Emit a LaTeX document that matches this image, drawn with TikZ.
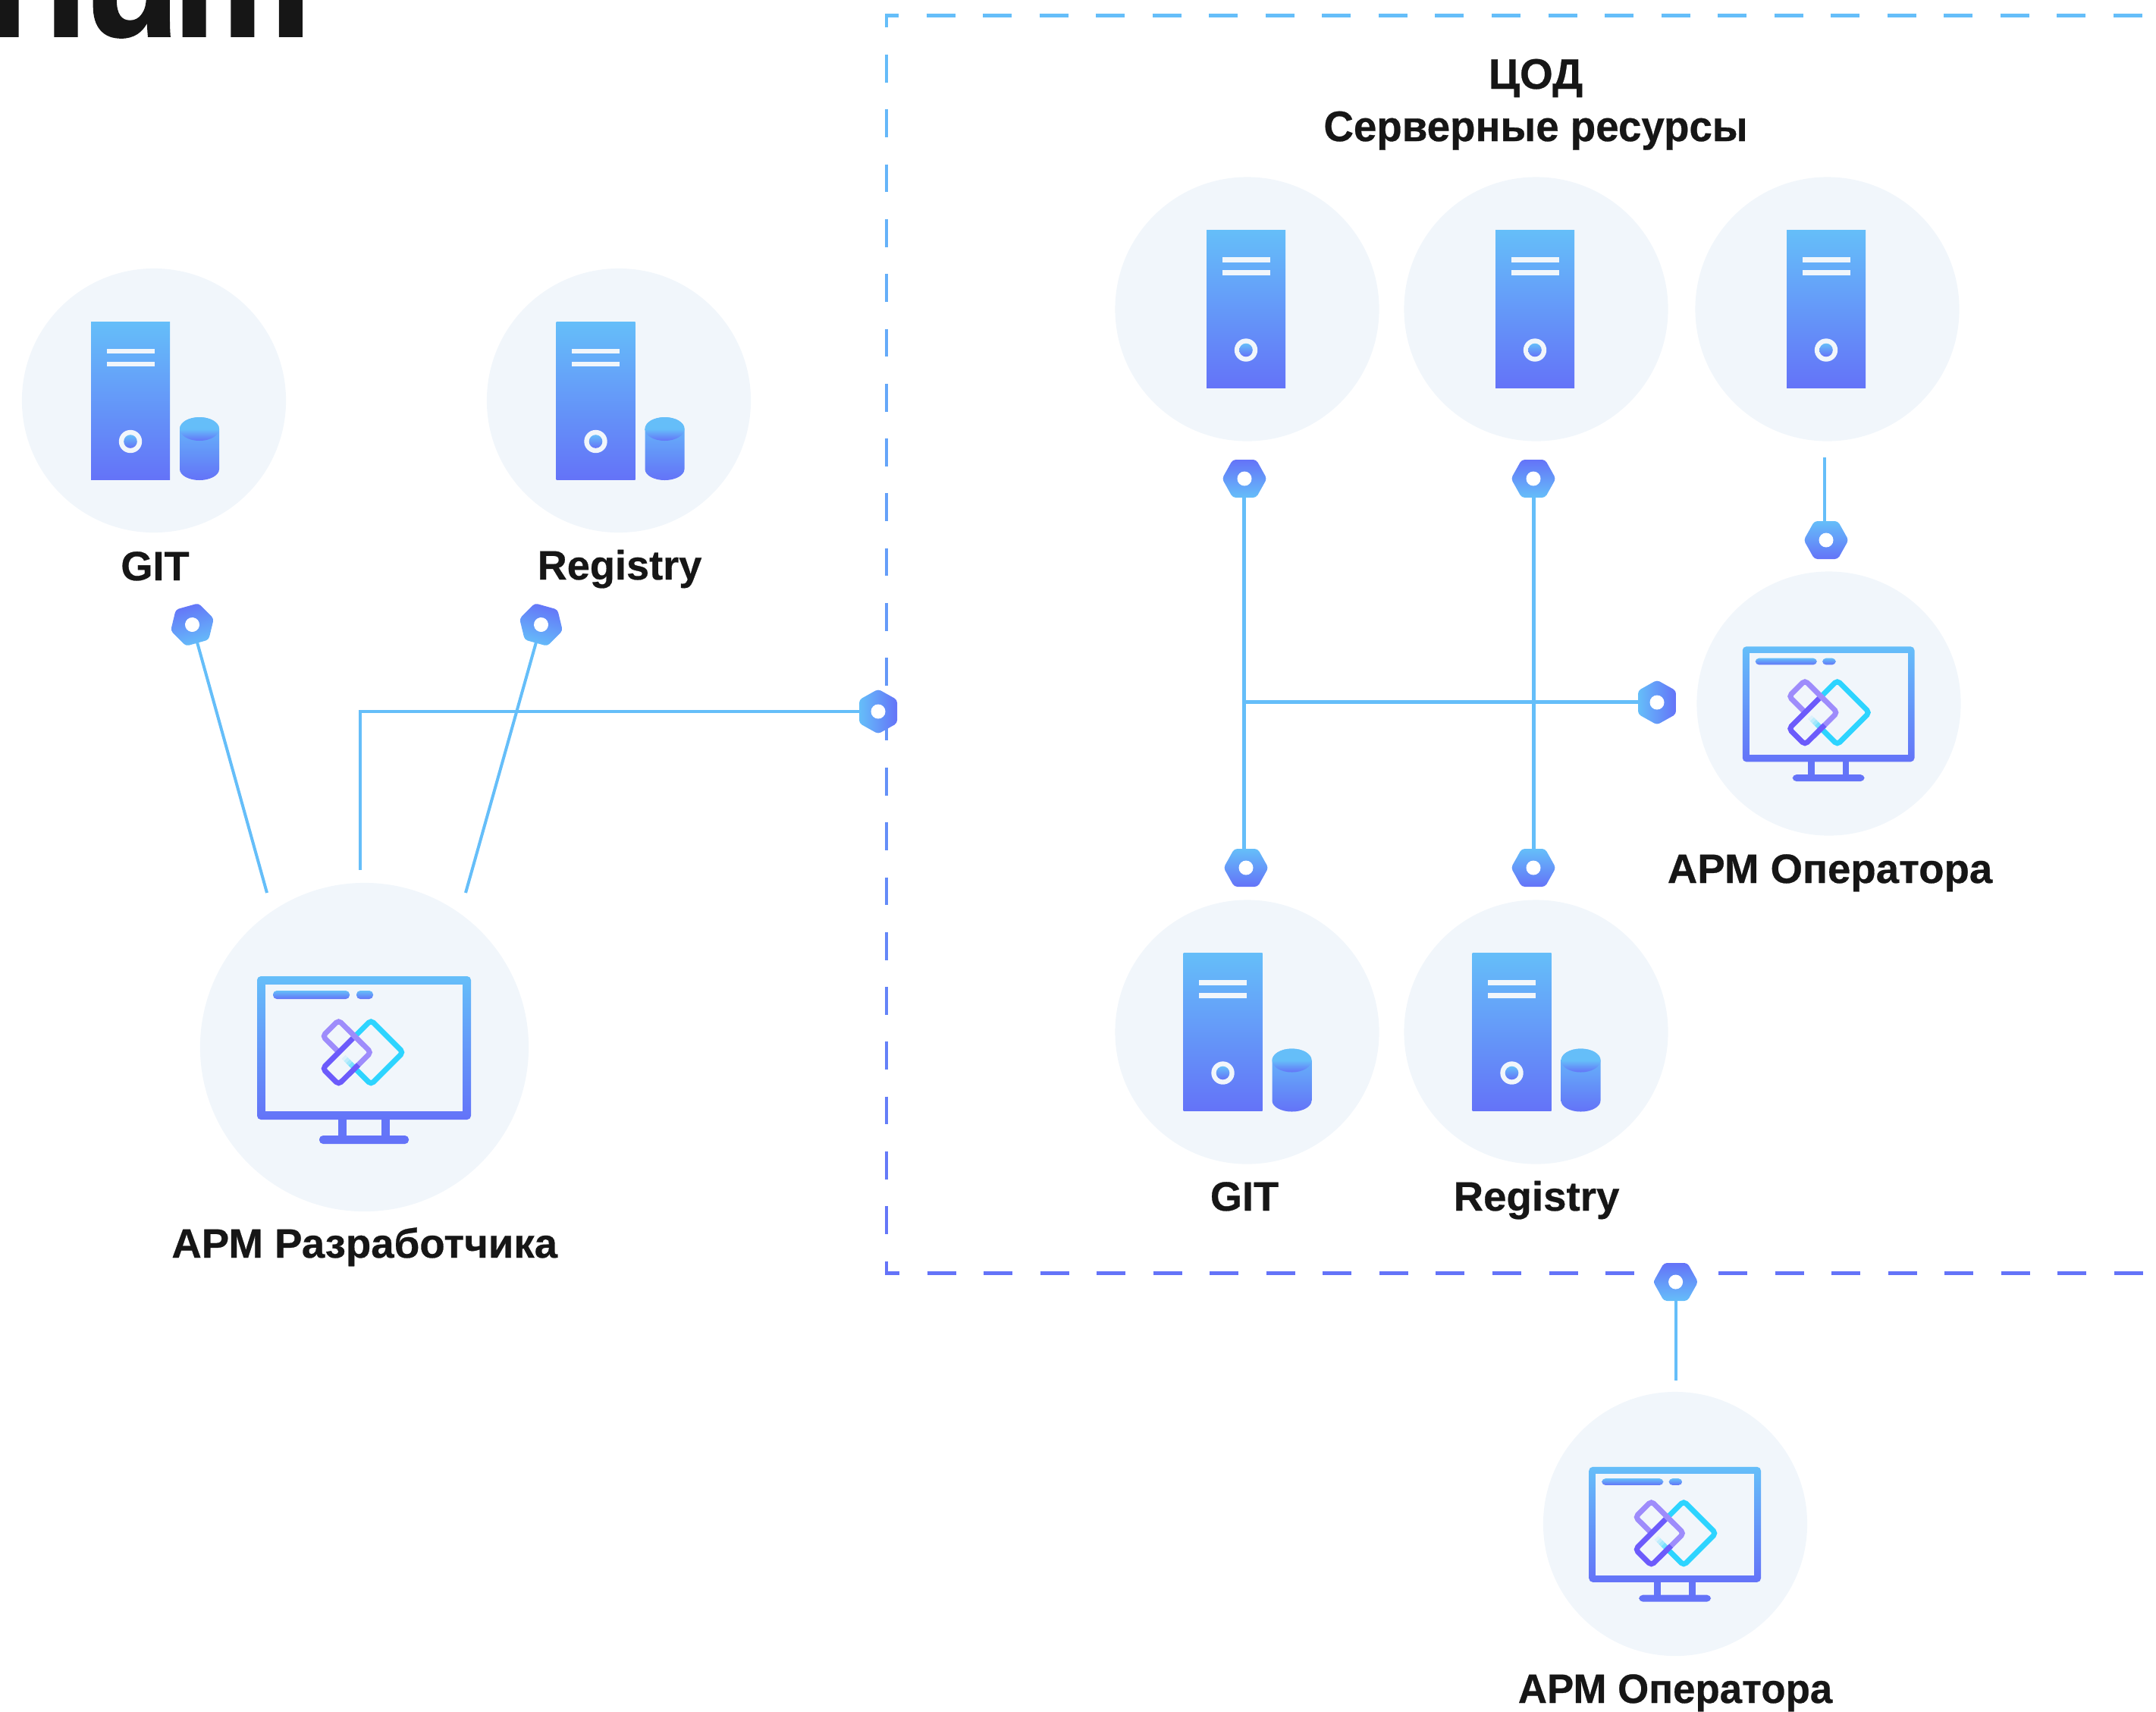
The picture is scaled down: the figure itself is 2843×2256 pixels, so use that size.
\documentclass[tikz,border=0pt]{standalone}
\usepackage{graphicx}
\usepackage{fontspec}
\setmainfont[BoldFeatures={FakeBold=0.5}]{Liberation Sans}
\newfontfamily\ttlfont[BoldFeatures={FakeBold=1.5}]{Liberation Sans}
\usetikzlibrary{calc}
\definecolor{cL}{HTML}{65BEF9}
\definecolor{cD}{HTML}{6473F8}
\definecolor{bgc}{HTML}{F1F6FB}
\definecolor{ink}{HTML}{161616}
\definecolor{pL}{HTML}{9E8CFB}
\definecolor{pD}{HTML}{6C5BFB}
\definecolor{cy}{HTML}{2DD4FF}
\tikzset{
  x=0.01cm,y=-0.01cm,
  bgcirc/.style={circle,fill=bgc,draw=none,inner sep=0pt,minimum size=3.48cm},
  bigcirc/.style={circle,fill=bgc,draw=none,inner sep=0pt,minimum size=4.33cm},
  conn/.style={draw=cL,line width=0.04cm},
  connw/.style={draw=cL,line width=0.05cm},
  grad/.style={top color=cL,bottom color=cD,draw=none},
  lbl/.style={anchor=base,inner sep=0pt,text=ink,font=\bfseries\fontsize{15.4}{18}\selectfont},
  lblb/.style={anchor=base,inner sep=0pt,text=ink,font=\bfseries\fontsize{16}{18}\selectfont},
}
\newcommand{\hexa}[3]{%
  \begin{scope}[shift={(#1,#2)},rotate=#3]
    \path[rounded corners=0.04cm,shading=axis,top color=cD,bottom color=cL,shading angle=#3]
      (-29.5,0)--(-15.5,-25)--(15.5,-25)--(29.5,0)--(15.5,25)--(-15.5,25)--cycle;
    \fill[white] (0,0) circle[radius=9.5];
  \end{scope}}
\newcommand{\srv}[3]{% x y dx
  \begin{scope}[shift={(#1,#2)}]
    \path[grad] (#3-52,-104) rectangle (#3+52,104);
    \fill[bgc] (#3-31.5,-68.5) rectangle (#3+31.5,-62);
    \fill[bgc] (#3-31.5,-51.5) rectangle (#3+31.5,-45);
    \fill[bgc] (#3,54) circle[radius=15.2];
    \path[grad] (#3,54) circle[radius=8.8];
  \end{scope}}
\newcommand{\srvdb}[2]{%
  \srv{#1}{#2}{-32.5}
  \begin{scope}[shift={(#1,#2)}]
    \path[grad] (32.5,37.5) .. controls (32.5,28.9) and (44.1,22) .. (58.5,22)
       .. controls (72.9,22) and (84.5,28.9) .. (84.5,37.5) -- (84.5,90.5)
       .. controls (84.5,98.5) and (72.9,105) .. (58.5,105)
       .. controls (44.1,105) and (32.5,98.5) .. (32.5,90.5) -- cycle;
    \fill[cL] (32.5,37.5) .. controls (32.5,28.9) and (44.1,22) .. (58.5,22)
       .. controls (72.9,22) and (84.5,28.9) .. (84.5,37.5) -- cycle;
    \path[grad] (32.5,37.5) .. controls (32.5,46.1) and (44.1,53) .. (58.5,53)
       .. controls (72.9,53) and (84.5,46.1) .. (84.5,37.5) -- cycle;
  \end{scope}}
\newcommand{\mon}[5]{% x y scale logo-dx logo-dy
  \begin{scope}[shift={(#1,#2)},scale=#3]
    \path[grad,rounded corners=0.05cm] (-141.5,-93.5) rectangle (140.5,95.5);
    \fill[bgc] (-130.5,-82.5) rectangle (129.5,84.5);
    \fill[cD!97!cL] (-34.5,95.5) rectangle (-23.5,117);
    \fill[cD!97!cL] (22.5,95.5) rectangle (33.5,117);
    \fill[cD,rounded corners=0.05cm] (-59.5,116.5) rectangle (58.5,127.5);
    \path[grad,rounded corners=0.05cm] (-120.5,-74.5) rectangle (-19.5,-63.5);
    \path[grad,rounded corners=0.05cm] (-10.5,-74.5) rectangle (11.5,-63.5);
  \end{scope}
  \begin{scope}[shift={(#1+#4,#2+#5)},line width=0.07cm,rounded corners=0.045cm,line cap=butt]
    \draw[cy] (-12.7,-14.1) -- (8.7,-35.5) -- (51,6.8) -- (8.7,49.1) -- (-12.5,27.9);
    \foreach \q/\o in {0/80,1/60,2/40,3/25,4/10}{
      \draw[cy,opacity=\o/100,rounded corners=0] ($(-12.5,27.9)+(-3*\q,-3*\q)$) -- ($(-12.5,27.9)+(-3*\q-3,-3*\q-3)$);}
    \draw[pL] (-33.8,6.5) -- (-55,-14.5) -- (-34,-35.5) -- (8.6,6.8) -- (-12.5,27.9);
    \draw[pD] (-15.2,-11.7) -- (-55,28.1) -- (-34,49.1) -- (-8,23.4);
  \end{scope}}
\begin{document}
\begin{tikzpicture}
\useasboundingbox (0,0) rectangle (2843,2256);
% title fragment
\node[anchor=base west,inner sep=0pt,text=ink] at (-20,47.3)
  {\ttlfont\bfseries\fontsize{58.3}{60}\selectfont i\kern.21cm r\kern-.27cm u\kern-.09cm m};
% dashed frame
\foreach \k in {0,...,22}{
  \pgfmathsetmacro\ya{72+72.3*\k}
  \pgfmathsetmacro\yb{min(\ya+36.7,1681)}
  \pgfmathsetmacro\p{100-(\ya-20)/16.58}
  \draw[color=cL!\p!cD,line width=0.04cm] (1169,\ya) -- (1169,\yb);
}
\draw[cL,line width=0.04cm] (1169,36) -- (1169,18);
\draw[cL,line width=0.05cm,dash pattern=on 0.38cm off 0.365cm,dash phase=0.2cm] (1167,20) -- (2843,20);
\draw[cD,line width=0.05cm,dash pattern=on 0.38cm off 0.365cm,dash phase=0.19cm] (1167,1678.5) -- (2843,1678.5);
% circles
\node[bgcirc] (cgit) at (203,528) {};
\node[bgcirc] (creg) at (816,528) {};
\node[bigcirc] (cdev) at (480.5,1380.5) {};
\node[bgcirc] (s1) at (1644.5,407.5) {};
\node[bgcirc] (s2) at (2025.5,407.5) {};
\node[bgcirc] (s3) at (2409.5,407.5) {};
\node[bgcirc] (cgit2) at (1644.5,1360.5) {};
\node[bgcirc] (creg2) at (2025.5,1360.5) {};
\node[bgcirc] (op1) at (2411.5,927.5) {};
\node[bgcirc] (op2) at (2209,2009) {};
% coordinates for ports
\coordinate (hgit) at (253.5,823.5);
\coordinate (hreg) at (713.5,823.5);
\coordinate (hdev) at (1158,938);
\coordinate (h1) at (1640.5,631);
\coordinate (h2) at (2022,631);
\coordinate (h3) at (2408,712);
\coordinate (h4) at (2185,925.5);
\coordinate (h5) at (1640.5,1144);
\coordinate (h6) at (2022,1144);
\coordinate (h7) at (2209.6,1690);
\coordinate (egit) at (352,1177);
\coordinate (ereg) at (614,1177);
\coordinate (edev) at (475,1147);
\coordinate (es3) at (2406,603);
\coordinate (eop) at (2209.6,1820);
% connectors
\draw[conn] (hgit) -- (egit);
\draw[conn] (hreg) -- (ereg);
\draw[conn] (edev) -- (edev |- hdev) -- (hdev);
\draw[connw] (h1) -- (h5);
\draw[connw] (h2) -- (h6);
\draw[connw] (h1 |- h4) -- (h4);
\draw[conn] (es3) -- (es3 |- h3);
\draw[conn] (h7) -- (eop);
% ports
\hexa{253.5}{823.5}{15.6}
\hexa{713.5}{823.5}{-15.6}
\hexa{1158}{938}{-90}
\hexa{1641}{631}{0}
\hexa{2022}{631}{0}
\hexa{2408}{712}{180}
\hexa{2185}{926}{-90}
\hexa{1643}{1144}{180}
\hexa{2022}{1144}{180}
\hexa{2209.6}{1690}{0}
% icons
\srvdb{204.5}{528}
\srvdb{818}{528}
\srv{1643}{407.5}{0}
\srv{2024}{407.5}{0}
\srv{2408}{407.5}{0}
\srvdb{1645}{1360.5}
\srvdb{2026}{1360.5}
\mon{480.5}{1380.5}{1}{0}{0}
\mon{2411.5}{927.5}{0.804}{2.5}{5}
\mon{2209}{2009}{0.804}{2.5}{5.5}
% labels
\node[lbl] (tgit) at (204.5,765) {GIT};
\node[lbl] (treg) at (817,764) {Registry};
\node[lbl] (tdev) at (480.7,1658) {\scalebox{1.008}[1]{АРМ Разработчика}};
\node[lblb] (thead1) at (2025,117) {ЦОД};
\node[lblb] (thead2) at (2025,186) {\scalebox{0.972}[1]{Серверные ресурсы}};
\node[lbl] (tgit2) at (1641,1596) {GIT};
\node[lbl] (treg2) at (2026,1596) {\scalebox{1.01}[1]{Registry}};
\node[lbl] (top1) at (2413,1164) {\scalebox{1.008}[1]{АРМ Оператора}};
\node[lbl] (top2) at (2209,2245) {\scalebox{0.975}[1]{АРМ Оператора}};
\end{tikzpicture}
\end{document}
